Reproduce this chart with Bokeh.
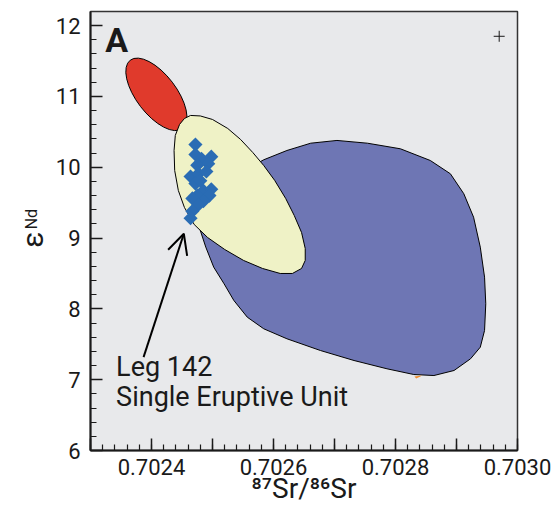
import math
from bokeh.plotting import figure
from bokeh.layouts import row
from bokeh.models import Range1d, FixedTicker, Label, Arrow, OpenHead, CustomJSTickFormatter
from bokeh.core.properties import value
from bokeh.embed import file_html
from bokeh.resources import INLINE

# ---------------- data ----------------
# red field (ellipse): centre, full width (x units), full height (y units), tilt
red_cx, red_cy = 0.702408, 11.03
red_w, red_h, red_angle = 0.000141, 0.565, -0.918

# yellow field outline
yellow_x = [0.702464, 0.702480, 0.702500, 0.702525, 0.702546, 0.702566, 0.702584,
            0.702602, 0.702620, 0.702634, 0.702646, 0.702652, 0.702652, 0.702646,
            0.702631, 0.702611, 0.702582, 0.702551, 0.702520, 0.702492, 0.702470,
            0.702454, 0.702444, 0.702438, 0.702437, 0.702439, 0.702446, 0.702454]
yellow_y = [10.732, 10.725, 10.675, 10.548, 10.393, 10.209, 10.025,
            9.814, 9.559, 9.319, 9.079, 8.853, 8.684, 8.571,
            8.500, 8.500, 8.571, 8.684, 8.839, 9.008, 9.192,
            9.432, 9.672, 9.955, 10.237, 10.449, 10.605, 10.689]

# blue field outline
blue_x = [0.702480, 0.702489, 0.702502, 0.702519, 0.702535, 0.702557, 0.702584,
          0.702622, 0.702677, 0.702732, 0.702786, 0.702830, 0.702863, 0.702896,
          0.702923, 0.702939, 0.702946, 0.702948, 0.702946, 0.702939, 0.702928,
          0.702912, 0.702890, 0.702857, 0.702808, 0.702754, 0.702704, 0.702661,
          0.702622, 0.702584, 0.702538, 0.702500]
blue_y = [9.107, 8.872, 8.589, 8.354, 8.119, 7.883, 7.719,
          7.578, 7.412, 7.271, 7.154, 7.073, 7.059, 7.130,
          7.295, 7.459, 7.695, 8.072, 8.448, 8.872, 9.295,
          9.626, 9.908, 10.096, 10.261, 10.340, 10.379, 10.340,
          10.237, 10.106, 9.884, 9.531]

# tiny orange sliver below blue field
orange_x = [0.702831, 0.702844, 0.702834]
orange_y = [7.045, 7.059, 7.017]

# Leg 142 single eruptive unit samples
leg142_x = [0.702472, 0.702472, 0.702482, 0.702498, 0.702493, 0.702475, 0.702464,
            0.702477, 0.702490, 0.702472, 0.702480, 0.702485, 0.702498, 0.702495,
            0.702475, 0.702467, 0.702485, 0.702477, 0.702467, 0.702464]
leg142_y = [10.32, 10.18, 10.12, 10.15, 10.05, 10.03, 9.87,
            9.91, 9.94, 9.77, 9.81, 9.67, 9.69, 9.60,
            9.60, 9.56, 9.52, 9.47, 9.38, 9.28]

# error cross
err_x = [0.70297]
err_y = [11.85]

x_major_ticks = [0.7023, 0.7024, 0.7025, 0.7026, 0.7027, 0.7028, 0.7029, 0.7030]
x_minor_ticks = [round(0.7023 + i * 0.00002, 5) for i in range(36)]
y_major_ticks = [6, 7, 8, 9, 10, 11, 12]
y_minor_ticks = [round(6 + i * 0.2, 1) for i in range(31)]

x_title = "⁸⁷Sr/⁸⁶Sr"
y_title_main, y_title_sub = "ε", "Nd"

FONT = "Roboto"
INK = "#1a1a1a"

p = figure(width=512, height=511,
           x_range=Range1d(0.7023, 0.7030), y_range=Range1d(6, 12.2),
           output_backend="svg", toolbar_location=None,
           min_border_left=45, min_border_right=40,
           min_border_top=11, min_border_bottom=61)
p.background_fill_color = "#e8e9eb"
p.border_fill_color = "white"
p.grid.visible = False
p.outline_line_color = "#333333"
p.outline_line_width = 1.5

p.xaxis.ticker = FixedTicker(ticks=x_major_ticks, minor_ticks=x_minor_ticks)
p.yaxis.ticker = FixedTicker(ticks=y_major_ticks, minor_ticks=y_minor_ticks)
p.xaxis.formatter = CustomJSTickFormatter(
    code="const k = Math.round(tick*10000); return (k % 2 === 0) ? tick.toFixed(4) : '';")

for ax in (p.xaxis[0], p.yaxis[0]):
    ax.major_tick_in = 12
    ax.major_tick_out = 0
    ax.minor_tick_in = 6
    ax.minor_tick_out = 0
    ax.axis_line_width = 2
    ax.axis_line_color = INK
    ax.major_tick_line_color = INK
    ax.minor_tick_line_color = INK
    ax.major_tick_line_width = 1.5
    ax.minor_tick_line_width = 1.2
    ax.major_label_text_font = FONT
    ax.major_label_text_font_size = "22px"
    ax.major_label_text_color = INK
p.yaxis.major_label_standoff = 10
p.xaxis.major_label_standoff = 8

p.xaxis.axis_label = x_title
p.xaxis.axis_label_text_font = FONT
p.xaxis.axis_label_text_font_size = "28px"
p.xaxis.axis_label_text_font_style = "normal"
p.xaxis.axis_label_text_color = INK
p.xaxis.axis_label_standoff = -6

# fields
p.ellipse(x=[red_cx], y=[red_cy], width=[red_w], height=[red_h], angle=[red_angle],
          fill_color="#e03a2c", line_color="black", line_width=1)
p.patch(blue_x, blue_y, fill_color="#6e76b4", line_color="black", line_width=1)
p.patch(orange_x, orange_y, fill_color="#f08c2c", line_color=None)
p.patch(yellow_x, yellow_y, fill_color="#eff2c6", line_color="black", line_width=1)

p.scatter(leg142_x, leg142_y, marker="square", angle=math.pi / 4, size=10,
          fill_color="#2a6cb4", line_color=None)
p.scatter(err_x, err_y, marker="cross", size=11, line_color=INK, line_width=1)

# arrow
p.add_layout(Arrow(end=OpenHead(size=20, line_width=2, line_color="black"),
                   x_start=0.702387, y_start=7.318, x_end=0.702453, y_end=9.061,
                   line_width=2, line_color="black"))

def lab(x, y, text, size, **kw):
    p.add_layout(Label(x=x, y=y, text=text, text_font=FONT, text_font_size=size,
                       text_color=INK, text_baseline="alphabetic", **kw))

lab(0.702342, 7.18, "Leg 142", "27px")
lab(0.702342, 6.76, "Single Eruptive Unit", "27px")
lab(0.702324, 11.80, "A", "34px", text_font_style="bold")

# y-axis title strip (epsilon with subscript Nd), drawn in a narrow side panel
# sharing the main plot's vertical scale
yt = figure(width=45, height=511, x_range=Range1d(0, 45), y_range=Range1d(6, 12.2),
            output_backend="svg", toolbar_location=None,
            x_axis_type=None, y_axis_type=None,
            min_border=0, min_border_left=0, min_border_right=0,
            min_border_top=11, min_border_bottom=61)
yt.outline_line_color = None
yt.grid.visible = False
yt.background_fill_color = "white"
yt.border_fill_color = "white"
yt.text(x=[32], y=[9.093], text=[y_title_main], angle=math.pi / 2,
        text_font=value(FONT), text_font_size="30px", text_color=INK,
        text_align="right", text_baseline="alphabetic")
yt.text(x=[31], y=[9.412], text=[y_title_sub], angle=math.pi / 2,
        text_font=value(FONT), text_font_size="16px", text_color=INK,
        text_align="right", text_baseline="alphabetic")

layout = row(yt, p)
open("out.html", "w").write(file_html(layout, INLINE))
